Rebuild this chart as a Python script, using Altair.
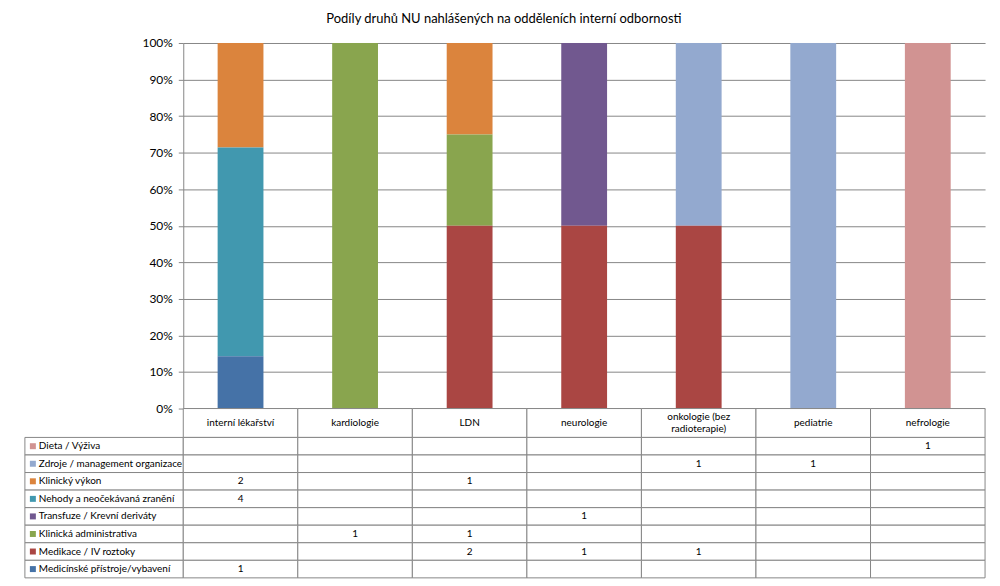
import altair as alt
import pandas as pd

title_text = "Podíly druhů NU nahlášených na odděleních interní odbornosti"

categories = ["interní lékařství", "kardiologie", "LDN", "neurologie",
              "onkologie (bez radioterapie)", "pediatrie", "nefrologie"]
header_labels = ["interní lékařství", "kardiologie", "LDN", "neurologie",
                 "onkologie (bez\nradioterapie)", "pediatrie", "nefrologie"]

# table order (top to bottom)
types = ["Dieta / Výživa", "Zdroje / management organizace", "Klinický výkon",
         "Nehody a neočekávaná zranění", "Transfuze / Krevní deriváty",
         "Klinická administrativa", "Medikace / IV roztoky",
         "Medicínské přístroje/vybavení"]
colors = ["#D19392", "#93A9CF", "#DB843D", "#4198AF", "#71588F",
          "#89A54E", "#AA4643", "#4572A7"]

dieta = [None, None, None, None, None, None, 1]
zdroje = [None, None, None, None, 1, 1, None]
klin_vykon = [2, None, 1, None, None, None, None]
nehody = [4, None, None, None, None, None, None]
transfuze = [None, None, None, 1, None, None, None]
klin_admin = [None, 1, 1, None, None, None, None]
medikace = [None, None, 2, 1, 1, None, None]
pristroje = [1, None, None, None, None, None, None]

series = [dieta, zdroje, klin_vykon, nehody, transfuze, klin_admin, medikace, pristroje]

rows = []
for i, (t, vals) in enumerate(zip(types, series)):
    for c, v in zip(categories, vals):
        rows.append({"type": t, "cat": c, "value": v,
                     "order": len(types) - 1 - i,
                     "label": "" if v is None else str(v)})
df = pd.DataFrame(rows)
df_bars = df[df["value"].notna()].copy()
df_header = pd.DataFrame({"cat": categories, "label": header_labels})
df_header["multi"] = df_header["label"].str.contains("\n")
df_types = pd.DataFrame({"type": types})

GRID = "#868686"
W_LEG = 159
W_PLOT = 805
H_PLOT = 367
H_HEAD = 29
H_TAB = 141
FS = 10

xscale = alt.Scale(domain=categories, paddingInner=0, paddingOuter=0)
cscale = alt.Scale(domain=types, range=colors)
yscale_t = alt.Scale(domain=types, paddingInner=0, paddingOuter=0)

bars = alt.Chart(df_bars).mark_bar(width=alt.RelativeBandSize(0.4)).encode(
    x=alt.X("cat:N", scale=xscale, axis=None),
    y=alt.Y("value:Q", stack="normalize",
            scale=alt.Scale(domain=[0, 1], nice=False),
            axis=alt.Axis(format="%", values=[i / 10 for i in range(11)], title=None,
                          grid=True, gridColor=GRID, domainColor=GRID, tickColor=GRID,
                          tickSize=5, labelFontSize=12, labelColor="#000000",
                          labelPadding=6)),
    color=alt.Color("type:N", scale=cscale, legend=None),
    order=alt.Order("order:Q", sort="ascending"),
).properties(width=W_PLOT, height=H_PLOT)

spacer1 = alt.Chart(df_header.head(1)).mark_point(opacity=0).encode(
    x=alt.value(0)).properties(width=W_LEG, height=H_PLOT)
spacer2 = alt.Chart(df_header.head(1)).mark_point(opacity=0).encode(
    x=alt.value(0)).properties(width=W_LEG, height=H_HEAD)

head_base = alt.Chart(df_header).encode(x=alt.X("cat:N", scale=xscale, axis=None))
header = alt.layer(
    head_base.mark_rect(fill="white", stroke=GRID, strokeWidth=1),
    head_base.transform_filter("!datum.multi").mark_text(
        fontSize=FS, color="#000000").encode(text="label:N"),
    head_base.transform_filter("datum.multi").mark_text(
        lineBreak="\n", lineHeight=12, dy=-6, fontSize=FS, color="#000000").encode(text="label:N"),
).properties(width=W_PLOT, height=H_HEAD)

grid_base = alt.Chart(df).encode(
    x=alt.X("cat:N", scale=xscale, axis=None),
    y=alt.Y("type:N", scale=yscale_t, axis=None),
)
grid = alt.layer(
    grid_base.mark_rect(fill="white", stroke=GRID, strokeWidth=1),
    grid_base.mark_text(fontSize=FS, color="#000000").encode(text="label:N"),
).properties(width=W_PLOT, height=H_TAB)

leg_base = alt.Chart(df_types).encode(y=alt.Y("type:N", scale=yscale_t, axis=None))
legcol = alt.layer(
    leg_base.mark_rect(fill="white", stroke=GRID, strokeWidth=1),
    leg_base.mark_square(size=36, opacity=1).encode(
        x=alt.value(8), color=alt.Color("type:N", scale=cscale, legend=None)),
    leg_base.mark_text(align="left", fontSize=FS, color="#000000").encode(
        x=alt.value(14), text="type:N"),
).properties(width=W_LEG, height=H_TAB)

chart = alt.concat(spacer1, bars, spacer2, header, legcol, grid,
                   columns=2, spacing=0, bounds="flush").properties(
    title=alt.Title(title_text, anchor="middle", fontSize=13, fontWeight="normal",
                    color="#000000", offset=11),
    padding={"left": 22, "top": 12, "right": 14, "bottom": 6},
).configure(font="Lato").configure_view(stroke=None).configure_concat(spacing=0)

chart.save("out.html", embed_options={"renderer": "svg", "actions": False})
